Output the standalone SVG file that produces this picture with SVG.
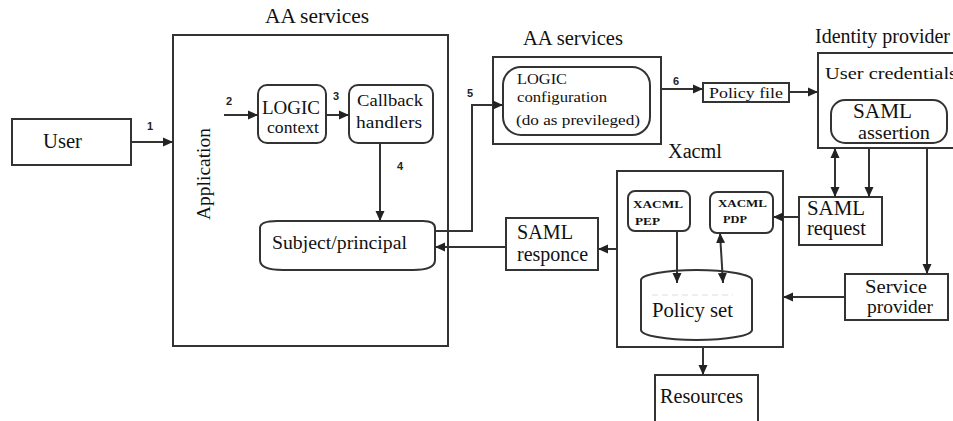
<svg xmlns="http://www.w3.org/2000/svg" width="953" height="421" viewBox="0 0 953 421" font-family="Liberation Serif, serif">
<defs>
<marker id="ah" markerUnits="userSpaceOnUse" markerWidth="10" markerHeight="10" viewBox="0 0 10 10" refX="10" refY="5" orient="auto-start-reverse">
<path d="M0,0.5 L10,5 L0,9.5 Z" fill="#222"/>
</marker>
<style>
.b{fill:#fff;stroke:#333;stroke-width:2}
.t{fill:#111}
.n{font-weight:bold;font-size:11px;fill:#222}
.c1{fill:none;stroke:#333;stroke-width:2;marker-end:url(#ah)}
.c2{fill:none;stroke:#333;stroke-width:2;marker-start:url(#ah);marker-end:url(#ah)}
</style>
</defs>
<rect width="953" height="421" fill="#fff"/>

<g id="aa-services-1">
<text class="t" font-family="Liberation Serif" x="317" y="23" font-size="20" text-anchor="middle" textLength="104" lengthAdjust="spacingAndGlyphs">AA services</text>
<rect class="b" x="173" y="35" width="275" height="311"/>
<text class="t" font-family="Liberation Serif" transform="translate(210,174) rotate(-90)" font-size="19" text-anchor="middle" textLength="92" lengthAdjust="spacingAndGlyphs">Application</text>
</g>

<g id="user">
<rect class="b" x="12" y="119" width="119" height="46"/>
<text class="t" font-family="Liberation Serif" x="43" y="148" font-size="20" textLength="39" lengthAdjust="spacingAndGlyphs">User</text>
</g>

<g id="logic-context">
<rect class="b" x="258" y="85" width="68" height="58" rx="9"/>
<text class="t" font-family="Liberation Serif" x="262" y="114" font-size="18" textLength="58" lengthAdjust="spacingAndGlyphs">LOGIC</text>
<text class="t" font-family="Liberation Serif" x="267" y="133" font-size="17" textLength="52" lengthAdjust="spacingAndGlyphs">context</text>
</g>

<g id="callback-handlers">
<rect class="b" x="349" y="85" width="84" height="58" rx="9"/>
<text class="t" font-family="Liberation Serif" x="357" y="106" font-size="17" textLength="66" lengthAdjust="spacingAndGlyphs">Callback</text>
<text class="t" font-family="Liberation Serif" x="356" y="128" font-size="17" textLength="66" lengthAdjust="spacingAndGlyphs">handlers</text>
</g>

<g id="subject-principal">
<path class="b" d="M277,221 L423,221 Q435,221 435,228 L435,260 Q435,270 413,270 L283,270 Q260,270 260,260 L260,228 Q260,221 277,221 Z"/>
<text class="t" font-family="Liberation Serif" x="272" y="249" font-size="18" textLength="135" lengthAdjust="spacingAndGlyphs">Subject/principal</text>
</g>

<g id="aa-services-2">
<text class="t" font-family="Liberation Serif" x="573" y="45" font-size="20" text-anchor="middle" textLength="100" lengthAdjust="spacingAndGlyphs">AA services</text>
<rect class="b" x="493" y="57" width="168" height="87"/>
<rect class="b" x="503" y="67" width="147" height="68" rx="18"/>
<text class="t" font-family="Liberation Serif" x="517" y="84" font-size="15" textLength="50" lengthAdjust="spacingAndGlyphs">LOGIC</text>
<text class="t" font-family="Liberation Serif" x="517" y="102" font-size="15" textLength="90" lengthAdjust="spacingAndGlyphs">configuration</text>
<text class="t" font-family="Liberation Serif" x="516" y="125" font-size="15" textLength="124" lengthAdjust="spacingAndGlyphs">(do as previleged)</text>
</g>

<g id="policy-file">
<rect class="b" x="703" y="83" width="86" height="19"/>
<text class="t" font-family="Liberation Serif" x="709" y="98" font-size="15" textLength="74" lengthAdjust="spacingAndGlyphs">Policy file</text>
</g>

<g id="identity-provider">
<text class="t" font-family="Liberation Serif" x="815" y="43" font-size="20" textLength="135" lengthAdjust="spacingAndGlyphs">Identity provider</text>
<rect class="b" x="818" y="53" width="145" height="95"/>
<text class="t" font-family="Liberation Serif" x="825" y="79" font-size="17" textLength="132" lengthAdjust="spacingAndGlyphs">User credentials</text>
<rect class="b" x="831" y="100" width="116" height="43" rx="14"/>
<text class="t" font-family="Liberation Serif" x="853" y="118" font-size="20" textLength="59" lengthAdjust="spacingAndGlyphs">SAML</text>
<text class="t" font-family="Liberation Serif" x="858" y="139" font-size="19" textLength="72" lengthAdjust="spacingAndGlyphs">assertion</text>
</g>

<g id="xacml">
<text class="t" font-family="Liberation Serif" x="668" y="158" font-size="20" textLength="54" lengthAdjust="spacingAndGlyphs">Xacml</text>
<rect class="b" x="617" y="171" width="166" height="176"/>
</g>

<g id="xacml-pep">
<rect class="b" x="628" y="191" width="62" height="40" rx="7"/>
<text class="t" font-family="Liberation Serif" x="633" y="208" font-size="11" font-weight="bold" textLength="50" lengthAdjust="spacingAndGlyphs">XACML</text>
<text class="t" font-family="Liberation Serif" x="635" y="225" font-size="11" font-weight="bold" textLength="25" lengthAdjust="spacingAndGlyphs">PEP</text>
</g>

<g id="xacml-pdp">
<rect class="b" x="710" y="192" width="63" height="41" rx="7"/>
<text class="t" font-family="Liberation Serif" x="718" y="207" font-size="11" font-weight="bold" textLength="49" lengthAdjust="spacingAndGlyphs">XACML</text>
<text class="t" font-family="Liberation Serif" x="723" y="223" font-size="11" font-weight="bold" textLength="24" lengthAdjust="spacingAndGlyphs">PDP</text>
</g>

<g id="policy-set">
<path class="b" d="M641,280 A55.5,10 0 0 1 752,280 L752,330 A55.5,10 0 0 1 641,330 Z"/>
<path d="M652,295 L733,295" fill="none" stroke="#ddd" stroke-width="1" stroke-dasharray="6,4"/>
<text class="t" font-family="Liberation Serif" x="652" y="317" font-size="20" textLength="81" lengthAdjust="spacingAndGlyphs">Policy set</text>
</g>

<g id="saml-request">
<rect class="b" x="799" y="197" width="83" height="48"/>
<text class="t" font-family="Liberation Serif" x="807" y="215" font-size="20" textLength="58" lengthAdjust="spacingAndGlyphs">SAML</text>
<text class="t" font-family="Liberation Serif" x="807" y="235" font-size="20" textLength="59" lengthAdjust="spacingAndGlyphs">request</text>
</g>

<g id="saml-responce">
<rect class="b" x="506" y="218" width="92" height="52"/>
<text class="t" font-family="Liberation Serif" x="517" y="239" font-size="20" textLength="56" lengthAdjust="spacingAndGlyphs">SAML</text>
<text class="t" font-family="Liberation Serif" x="517" y="261" font-size="20" textLength="71" lengthAdjust="spacingAndGlyphs">responce</text>
</g>

<g id="service-provider">
<rect class="b" x="845" y="274" width="103" height="46"/>
<text class="t" font-family="Liberation Serif" x="865" y="293" font-size="19" textLength="62" lengthAdjust="spacingAndGlyphs">Service</text>
<text class="t" font-family="Liberation Serif" x="867" y="313" font-size="19" textLength="66" lengthAdjust="spacingAndGlyphs">provider</text>
</g>

<g id="resources">
<rect class="b" x="655" y="375" width="103" height="50"/>
<text class="t" font-family="Liberation Serif" x="660" y="403" font-size="20" textLength="83" lengthAdjust="spacingAndGlyphs">Resources</text>
</g>

<g id="connectors">
<line class="c1" x1="131" y1="142" x2="173" y2="142"/>
<line class="c1" x1="224" y1="115" x2="258" y2="115"/>
<line class="c1" x1="326" y1="115" x2="349" y2="115"/>
<line class="c1" x1="380" y1="143" x2="380" y2="221"/>
<polyline class="c1" points="435,231 472,231 472,105 503,105"/>
<line class="c1" x1="661" y1="89" x2="703" y2="89"/>
<line class="c1" x1="789" y1="92" x2="818" y2="92"/>
<line class="c2" x1="835" y1="148" x2="835" y2="197"/>
<line class="c1" x1="869" y1="148" x2="869" y2="197"/>
<line class="c1" x1="927" y1="148" x2="927" y2="274"/>
<line class="c1" x1="845" y1="297" x2="783" y2="297"/>
<line class="c1" x1="799" y1="217" x2="773" y2="217"/>
<line class="c1" x1="617" y1="249" x2="598" y2="249"/>
<line class="c1" x1="506" y1="247" x2="435" y2="247"/>
<line class="c1" x1="677" y1="231" x2="677" y2="283"/>
<line class="c2" x1="720" y1="233" x2="723" y2="283"/>
<line class="c1" x1="703" y1="347" x2="703" y2="375"/>
<text class="n" font-family="Liberation Sans" x="147" y="130">1</text>
<text class="n" font-family="Liberation Sans" x="226" y="105">2</text>
<text class="n" font-family="Liberation Sans" x="333" y="100">3</text>
<text class="n" font-family="Liberation Sans" x="397" y="170">4</text>
<text class="n" font-family="Liberation Sans" x="467" y="97">5</text>
<text class="n" font-family="Liberation Sans" x="673" y="85">6</text>
</g>
</svg>
